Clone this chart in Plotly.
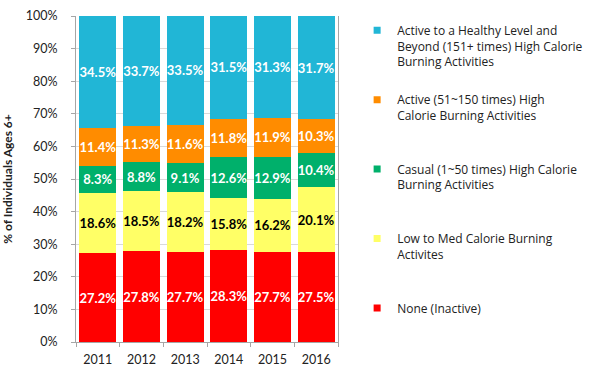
import plotly.graph_objects as go

years = ["2011", "2012", "2013", "2014", "2015", "2016"]
none_inactive = [27.2, 27.8, 27.7, 28.3, 27.7, 27.5]
low_med = [18.6, 18.5, 18.2, 15.8, 16.2, 20.1]
casual = [8.3, 8.8, 9.1, 12.6, 12.9, 10.4]
active = [11.4, 11.3, 11.6, 11.8, 11.9, 10.3]
healthy = [34.5, 33.7, 33.5, 31.5, 31.3, 31.7]

series = [
    ("None (Inactive)", none_inactive, "#FF0000", "white"),
    ("Low to Med Calorie Burning<br>Activites", low_med, "#FFFF66", "black"),
    ("Casual (1~50 times) High Calorie<br>Burning Activities", casual, "#00B06B", "white"),
    ("Active (51~150 times) High<br>Calorie Burning Activities", active, "#FF8C00", "white"),
    ("Active to a Healthy Level and<br>Beyond (151+ times) High Calorie<br>Burning Activities", healthy, "#21B6D6", "white"),
]
y_title = "% of Individuals Ages 6+"

FONT = "Lato, Open Sans, sans-serif"
LEGFONT = "Open Sans, sans-serif"

fig = go.Figure()
for name, vals, color, tcolor in series:
    fig.add_trace(go.Bar(
        x=years, y=vals, name=name, showlegend=False,
        marker=dict(color=color, line=dict(width=0)),
        text=[f"{v:.1f}%" for v in vals],
        textposition="inside", insidetextanchor="middle", textangle=0,
        textfont=dict(family=FONT, size=13, color=tcolor, weight="bold"),
        constraintext="none",
        hoverinfo="skip",
    ))

# legend entries (top to bottom), padded to equal height
for i, (name, vals, color, tcolor) in enumerate(reversed(series)):
    nlines = name.count("<br>") + 1
    label = name if i == len(series) - 1 else name + "<br>\u00a0" * (4 - nlines)
    fig.add_trace(go.Scatter(
        x=[None], y=[None], mode="markers", name=label,
        legendgroup=f"g{i}",
        marker=dict(symbol="square", size=7, color=color),
        hoverinfo="skip",
    ))

fig.update_layout(
    barmode="stack",
    bargap=0.15,
    width=600, height=391,
    margin=dict(l=76, r=221, t=16, b=49),
    paper_bgcolor="white", plot_bgcolor="white",
    font=dict(family=FONT, size=12, color="#222222"),
    showlegend=True,
    legend=dict(
        x=1.073, xanchor="left", y=1.0, yanchor="top",
        traceorder="grouped",
        tracegroupgap=4,
        valign="top",
        font=dict(family=LEGFONT, size=12, color="#222222"),
        itemwidth=30,
        bgcolor="rgba(0,0,0,0)",
    ),
    xaxis=dict(
        showline=True, linecolor="#A6A6A6", linewidth=1,
        ticks="outside", tickson="boundaries", ticklen=4, tickcolor="#A6A6A6",
        ticklabelstandoff=6,
        tickfont=dict(size=12.5, color="#222222"),
    ),
    yaxis=dict(
        range=[0, 100], dtick=10, ticksuffix="%",
        showline=True, linecolor="#A6A6A6", linewidth=1, mirror=True,
        ticks="outside", ticklen=4, tickcolor="#A6A6A6",
        ticklabelstandoff=11,
        showgrid=True, gridcolor="#D9D9D9", gridwidth=1,
        tickfont=dict(size=12.5, color="#222222"),
        automargin=False,
        title=dict(text=f"<b>{y_title}</b>", font=dict(family=FONT, size=12, color="#222222")),
    ),
)

fig.write_html("out.html", config={"displayModeBar": False},
               post_script="document.body.style.margin='0';")
